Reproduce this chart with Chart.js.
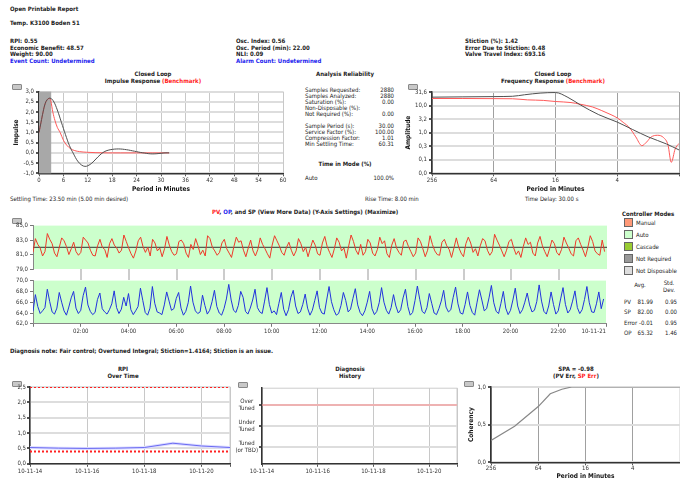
<!DOCTYPE html>
<html>
<head>
<meta charset="utf-8">
<script src="https://cdn.jsdelivr.net/npm/chart.js@4.4.1/dist/chart.umd.min.js"></script>
<style>
body { margin: 0; background: #fff; }
#page { position: relative; width: 680px; height: 480px; overflow: hidden; font-family: "DejaVu Sans Condensed", "DejaVu Sans", sans-serif; font-size: 6px; color: #222; }
.t { position: absolute; white-space: nowrap; line-height: 6.5px; }
.b { font-weight: bold; }
.c { transform: translateX(-50%); text-align: center; }
.blue { color: #2222ee; }
.red { color: #ff2222; }
canvas { position: absolute; }
.btn { position: absolute; width: 8px; height: 4px; background: #c8c8c8; border: 1px solid #888; border-radius: 1px; }
.sq { position: absolute; left: 624px; width: 7px; height: 7px; border: 1px solid #666; }
.row { display: flex; justify-content: space-between; width: 89px; height: 6px; line-height: 6px; }
</style>
</head>
<body>
<div id="page">
  <div class="t b" style="left:10px;top:6px">Open Printable Report</div>
  <div class="t b" style="left:10px;top:20px">Temp. K3100 Boden 51</div>
  <div class="t b" style="left:10px;top:38px">RPI: 0.55<br>Economic Benefit: 48.57<br>Weight: 90.00<br><span class="blue">Event Count: Undetermined</span></div>
  <div class="t b" style="left:236px;top:38px">Osc. Index: 0.56<br>Osc. Period (min): 22.00<br>NLI: 0.09<br><span class="blue">Alarm Count: Undetermined</span></div>
  <div class="t b" style="left:465px;top:38px">Stiction (%): 1.42<br>Error Due to Stiction: 0.48<br>Valve Travel Index: 693.16</div>

  <div class="t b c" style="left:153px;top:71px">Closed Loop</div>
  <div class="t b c" style="left:153px;top:78px">Impulse Response <span class="red">(Benchmark)</span></div>
  <div class="t b c" style="left:553px;top:71px">Closed Loop</div>
  <div class="t b c" style="left:553px;top:78px">Frequency Response <span class="red">(Benchmark)</span></div>

  <div class="t b c" style="left:345px;top:71px">Analysis Reliability</div>
  <div class="t" style="left:305px;top:87px">
    <div class="row"><span>Samples Requested:</span><span>2880</span></div>
    <div class="row"><span>Samples Analyzed:</span><span>2880</span></div>
    <div class="row"><span>Saturation (%):</span><span>0.00</span></div>
    <div class="row"><span>Non-Disposable (%):</span><span></span></div>
    <div class="row"><span>Not Required (%):</span><span>0.00</span></div>
    <div class="row"></div>
    <div class="row"><span>Sample Period (s):</span><span>30.00</span></div>
    <div class="row"><span>Service Factor (%):</span><span>100.00</span></div>
    <div class="row"><span>Compression Factor:</span><span>1.01</span></div>
    <div class="row"><span>Min Settling Time:</span><span>60.31</span></div>
  </div>
  <div class="t b c" style="left:345px;top:161px">Time in Mode (%)</div>
  <div class="t" style="left:305px;top:175px"><div class="row"><span>Auto</span><span>100.0%</span></div></div>

  <div class="t" style="left:10px;top:196px">Settling Time: 23.50 min (5.00 min desired)</div>
  <div class="t" style="left:365px;top:196px">Rise Time: 8.00 min</div>
  <div class="t" style="left:525px;top:196px">Time Delay: 30.00 s</div>

  <div class="t b" style="left:212px;top:209px"><span class="red">PV</span>, <span class="blue">OP</span>, and SP (View More Data) (Y-Axis Settings) (Maximize)</div>

  <div class="t b" style="left:622px;top:211px">Controller Modes</div>
  <div class="sq" style="top:218px;background:#ff9977"></div><div class="t" style="left:636px;top:220px">Manual</div>
  <div class="sq" style="top:230px;background:#ccffcc"></div><div class="t" style="left:636px;top:232px">Auto</div>
  <div class="sq" style="top:242px;background:#99cc33"></div><div class="t" style="left:636px;top:244px">Cascade</div>
  <div class="sq" style="top:254px;background:#999999"></div><div class="t" style="left:636px;top:256px">Not Required</div>
  <div class="sq" style="top:266px;background:#dddddd"></div><div class="t" style="left:636px;top:268px">Not Disposable</div>

  <div class="t c" style="left:640px;top:282px">Avg.</div>
  <div class="t c" style="left:669px;top:280px">Std.<br>Dev.</div>
  <div class="t" style="left:624px;top:299px">PV</div><div class="t" style="right:27px;top:299px">81.99</div><div class="t" style="right:3px;top:299px">0.95</div>
  <div class="t" style="left:624px;top:309px">SP</div><div class="t" style="right:27px;top:309px">82.00</div><div class="t" style="right:3px;top:309px">0.00</div>
  <div class="t" style="left:624px;top:320px">Error</div><div class="t" style="right:27px;top:320px">-0.01</div><div class="t" style="right:3px;top:320px">0.95</div>
  <div class="t" style="left:624px;top:330px">OP</div><div class="t" style="right:27px;top:330px">65.32</div><div class="t" style="right:3px;top:330px">1.46</div>

  <div class="t b" style="left:10px;top:348px">Diagnosis note: Fair control; Overtuned Integral; Stiction=1.4164; Stiction is an issue.</div>

  <div class="t b c" style="left:123px;top:366px">RPI</div>
  <div class="t b c" style="left:123px;top:373px">Over Time</div>
  <div class="t b c" style="left:350px;top:366px">Diagnosis</div>
  <div class="t b c" style="left:350px;top:373px">History</div>
  <div class="t b c" style="left:576px;top:366px">SPA = -0.98</div>
  <div class="t b c" style="left:576px;top:373px">(PV Err, <span class="red">SP Err</span>)</div>

  <div class="btn" style="left:12px;top:84px"></div>
  <div class="btn" style="left:408px;top:84px"></div>
  <div class="btn" style="left:12px;top:218px"></div>
  <div class="btn" style="left:12px;top:381px"></div>
  <div class="btn" style="left:238px;top:382px"></div>
  <div class="btn" style="left:464px;top:381px"></div>

  <canvas id="impulse" width="290" height="107" style="left:0;top:86px"></canvas>
  <canvas id="freq" width="280" height="107" style="left:400px;top:86px"></canvas>
  <canvas id="pv" width="607" height="61" style="left:0;top:220px"></canvas>
  <canvas id="op" width="607" height="61" style="left:0;top:275px"></canvas>
  <canvas id="rpi" width="240" height="96" style="left:0;top:380px"></canvas>
  <canvas id="diag" width="230" height="96" style="left:235px;top:380px"></canvas>
  <canvas id="spa" width="225" height="100" style="left:455px;top:380px"></canvas>
</div>

<script>
// impulse response (minutes / impulse)
const IMPULSE_MINUTES = [0, 0.5, 1, 1.5, 2, 2.7, 3.5, 4.5, 5.5, 6.5, 7.5, 8.5, 9.5, 10.5, 11.3, 12, 13, 14, 15, 16, 17, 18, 19, 20, 21, 22, 23, 24, 25, 26, 27, 28, 29, 30, 31, 32];
const IMPULSE_VALUES = [1.0, 1.5, 2.0, 2.4, 2.6, 2.68, 2.55, 2.1, 1.5, 0.9, 0.35, -0.05, -0.4, -0.6, -0.66, -0.63, -0.5, -0.3, -0.1, 0.05, 0.13, 0.17, 0.19, 0.19, 0.17, 0.14, 0.1, 0.06, 0.02, -0.01, -0.04, -0.05, -0.04, -0.02, 0.0, 0.0];
const BENCH_MINUTES = [0, 0.5, 1, 1.5, 2, 2.7, 2.9, 3.4, 3.9, 4.5, 5.2, 6.0, 6.8, 7.8, 8.8, 10, 11.7, 14, 17, 20, 24, 28, 32];
const BENCH_VALUES = [1.0, 1.5, 2.0, 2.4, 2.6, 2.66, 2.55, 2.0, 1.6, 1.25, 1.0, 0.62, 0.38, 0.2, 0.11, 0.06, 0.03, 0.01, 0, 0, 0, 0, 0];
const IMPULSE_SHADE_END = 3;

// frequency response (period in minutes / amplitude)
const FREQ_PERIODS = [256, 128, 64, 42, 32, 22.6, 16, 12.1, 9.2, 6.06, 4, 2.83, 2, 1.32, 1];
const FREQ_AMPLITUDE = [20.4, 20.9, 21.4, 22, 25, 28.8, 30.2, 20, 10.7, 4.6, 2.45, 1.3, 0.7, 0.38, 0.23];
const FREQ_BENCH_PERIODS = [256, 128, 64, 42, 30, 21, 16, 11.3, 9.2, 7, 5.66, 4.6, 4, 3.5, 3.03, 2.64, 2.3, 2.07, 1.87, 1.62, 1.41, 1.28, 1.19, 1.09, 1];
const FREQ_BENCH_AMPLITUDE = [18.2, 18.2, 18.0, 17.8, 16.2, 15.5, 14.1, 12.9, 11.2, 8.9, 6.5, 4.6, 3.5, 2.4, 1.5, 0.7, 0.33, 0.45, 0.69, 0.8, 0.65, 0.35, 0.08, 0.25, 0.4];
const FREQ_Y_TICKS = [31.62, 10, 3.162, 1, 0.3162, 0.1, 0.03162];
const PERIOD_TICKS = [256, 64, 16, 4, 1];

// trend, one sample every 6 minutes over 24 h
const SAMPLE_MINUTES = 6;
const PV = [
  81.3, 83.2, 82.4, 81.9, 80.8, 81.4, 83.9, 83.1, 82.5, 81.2, 80.7, 82.0,
  83.3, 82.9, 82.1, 81.0, 81.8, 82.7, 81.4, 80.9, 81.3, 83.4, 83.0, 82.6,
  81.6, 80.9, 80.8, 82.2, 83.1, 82.0, 81.7, 80.6, 82.5, 83.2, 82.3, 81.9,
  81.2, 81.6, 83.7, 82.8, 81.9, 81.1, 80.5, 81.5, 82.9, 83.4, 82.1, 81.3,
  82.0, 80.8, 83.1, 82.6, 81.5, 81.9, 80.7, 81.8, 83.5, 82.3, 81.4, 80.9,
  81.1, 82.8, 83.0, 82.5, 81.2, 80.6, 82.4, 81.7, 83.2, 82.2, 81.0, 81.6,
  80.8, 83.6, 83.2, 82.0, 81.5, 80.9, 81.3, 82.6, 83.1, 81.8, 81.2, 80.6,
  82.1, 83.4, 82.7, 82.9, 81.6, 80.7, 81.9, 83.0, 81.5, 80.8, 81.7, 83.3,
  82.4, 81.8, 81.1, 80.5, 82.3, 83.6, 82.9, 82.2, 81.3, 80.9, 82.0, 82.7,
  81.6, 80.8, 81.5, 83.2, 82.5, 81.4, 82.0, 80.7, 81.9, 83.0, 82.3, 81.1,
  80.9, 82.6, 83.5, 82.1, 81.3, 80.6, 81.8, 83.3, 82.7, 81.5, 81.9, 80.5,
  82.2, 83.7, 82.8, 81.6, 81.0, 82.4, 80.9, 81.4, 83.1, 82.6, 81.2, 80.8,
  81.7, 83.4, 82.5, 82.9, 81.1, 80.6, 82.3, 83.2, 81.9, 81.3, 80.9, 82.8,
  83.0, 82.1, 81.4, 80.7, 81.2, 83.3, 82.8, 81.8, 80.7, 81.6, 83.6, 82.4,
  81.5, 81.0, 80.9, 82.7, 83.1, 82.2, 81.7, 80.6, 81.9, 83.3, 82.0, 81.2,
  80.7, 82.5, 83.4, 82.6, 81.3, 81.8, 80.8, 82.2, 83.2, 82.9, 81.6, 80.9,
  81.4, 83.8, 83.0, 82.3, 81.5, 80.7, 81.6, 82.8, 83.1, 81.9, 81.0, 81.5,
  80.6, 82.1, 83.3, 82.4, 82.7, 81.2, 80.8, 82.6, 83.5, 82.2, 81.4, 80.7,
  81.8, 83.0, 82.5, 81.3, 80.9, 81.7, 83.4, 82.6, 81.9, 81.1, 80.8, 82.9,
  83.3, 82.4, 81.6, 80.7, 82.0, 83.6, 82.8, 81.5, 81.1, 80.9, 83.0, 81.4
];
const OP = [
  64.3, 67.4, 65.2, 63.9, 64.4, 65.0, 68.4, 66.1, 64.2, 63.8, 64.9, 67.8,
  66.0, 64.4, 63.6, 65.1, 66.8, 68.0, 64.9, 63.9, 64.5, 67.2, 68.8, 65.5,
  64.3, 63.7, 64.1, 66.5, 67.7, 64.8, 64.2, 63.8, 64.6, 65.7, 68.1, 65.0,
  63.9, 64.7, 66.9, 65.3, 67.6, 64.6, 63.7, 64.4, 65.2, 68.6, 66.3, 64.1,
  63.6, 64.9, 68.9, 65.8, 64.2, 64.0, 63.7, 65.5, 67.9, 66.2, 64.5, 64.8,
  66.7, 67.8, 64.9, 63.6, 64.3, 65.9, 69.0, 66.0, 64.4, 63.9, 64.2, 67.3,
  65.4, 63.8, 64.5, 66.1, 68.2, 65.2, 64.0, 63.6, 64.8, 66.6, 69.3, 66.4,
  64.5, 64.1, 65.4, 68.0, 66.9, 64.3, 63.8, 64.9, 66.4, 68.4, 65.0, 64.2,
  63.9, 66.2, 68.7, 65.6, 64.0, 64.4, 63.7, 65.8, 67.8, 64.7, 63.5, 64.6,
  66.9, 68.2, 65.3, 63.9, 64.2, 65.6, 67.5, 64.9, 63.6, 64.5, 66.3, 68.1,
  65.0, 64.0, 63.8, 66.4, 68.9, 66.1, 64.6, 63.6, 63.9, 65.4, 67.8, 66.3,
  64.2, 64.7, 66.7, 68.5, 65.5, 64.1, 63.5, 64.4, 66.0, 68.0, 64.8, 63.7,
  64.3, 65.9, 68.7, 66.0, 64.5, 63.8, 65.0, 67.4, 65.3, 64.0, 64.6, 66.8,
  68.4, 65.2, 63.6, 64.1, 66.3, 69.0, 66.5, 64.3, 63.9, 65.0, 67.6, 65.8,
  64.0, 63.7, 64.8, 66.2, 68.2, 65.1, 64.2, 64.6, 66.9, 68.8, 65.7, 64.0,
  63.8, 65.6, 67.9, 65.4, 64.1, 63.6, 66.0, 68.3, 66.4, 64.4, 64.8, 66.8,
  69.1, 65.9, 64.3, 63.9, 65.8, 68.0, 64.9, 63.7, 64.5, 66.4, 68.6, 65.3,
  63.9, 64.6, 66.0, 67.7, 65.5, 64.2, 64.5, 66.1, 69.2, 66.2, 64.3, 63.8,
  65.3, 67.9, 65.6, 63.8, 64.4, 66.6, 68.7, 65.6, 64.0, 64.6, 66.2, 68.1,
  65.0, 63.9, 64.6, 66.5, 68.9, 65.9, 64.2, 64.1, 65.7, 67.9, 64.8, 66.6
];
const SP_VALUE = 82.0;
const TREND_HOURS = 24;
const TREND_END_LABEL = '10-11-21';

// history charts, one entry per day
const DATES = ['10-11-14', '10-11-15', '10-11-16', '10-11-17', '10-11-18', '10-11-19', '10-11-20', '10-11-21'];
const RPI_VALUES = [0.53, 0.51, 0.50, 0.51, 0.53, 0.67, 0.58, 0.53];
const RPI_LIMITS = [2.5, 0.4];
const DIAG_LEVELS = [['Tuned', '(or TBD)'], ['Under', 'Tuned'], ['Over', 'Tuned']];
const DIAG_HISTORY = [2, 2, 2, 2, 2, 2, 2, 2];

// spa coherency
const SPA_PERIODS = [256, 128, 64, 45, 32, 24, 16, 8, 4, 2, 1];
const SPA_COHERENCY = [0.29, 0.48, 0.74, 0.91, 0.97, 1.0, 1.0, 1.0, 1.0, 1.0, 1.0];

Chart.defaults.font.family = '"DejaVu Sans Condensed", "DejaVu Sans", sans-serif';
Chart.defaults.font.size = 6;
Chart.defaults.color = '#333';
Chart.defaults.animation = false;
Chart.defaults.responsive = false;
Chart.defaults.plugins.legend.display = false;
Chart.defaults.plugins.tooltip.enabled = false;
Chart.defaults.elements.point.radius = 0;
Chart.defaults.elements.line.borderWidth = 1;

const comma = v => Number(v).toFixed(1).replace('.', ',');
const xy = (xs, ys) => xs.map((x, i) => ({ x: x, y: ys[i] }));
const axisBorder = { color: '#333', width: 1.5 };
const hGrid = { color: '#dddddd', lineWidth: 2, tickLength: 3, tickColor: '#555' };
const vGrid = { color: '#c8c8c8', lineWidth: 1, tickLength: 3, tickColor: '#555' };
const axisTitle = text => ({ display: true, text: text, color: '#111', font: { weight: 'bold', size: 6.5, lineHeight: 1 }, padding: { top: 1, bottom: 0 } });
const fixWidth = w => scale => { scale.width = w; };

const framePlugin = {
    id: 'frame',
    beforeDraw(chart) {
        const a = chart.chartArea;
        const ctx = chart.ctx;
        ctx.save();
        ctx.strokeStyle = '#cccccc';
        ctx.lineWidth = 1;
        ctx.strokeRect(a.left, a.top, a.right - a.left, a.bottom - a.top);
        ctx.restore();
    }
};

const shadePlugin = {
    id: 'shade',
    beforeDatasetsDraw(chart) {
        const xs = chart.scales.x;
        const a = chart.chartArea;
        const x0 = xs.getPixelForValue(0);
        const x1 = xs.getPixelForValue(IMPULSE_SHADE_END);
        chart.ctx.save();
        chart.ctx.fillStyle = '#a8a8a8';
        chart.ctx.fillRect(x0, a.top, x1 - x0, a.bottom - a.top);
        chart.ctx.restore();
    }
};

const greenPlugin = {
    id: 'green',
    beforeDraw(chart) {
        const a = chart.chartArea;
        chart.ctx.save();
        chart.ctx.fillStyle = '#ccffcc';
        chart.ctx.fillRect(a.left, a.top, a.right - a.left, a.bottom - a.top);
        chart.ctx.restore();
    }
};

const gapPlugin = {
    id: 'gap',
    afterDraw(chart) {
        const xs = chart.scales.x;
        const a = chart.chartArea;
        const ctx = chart.ctx;
        ctx.save();
        ctx.strokeStyle = '#cccccc';
        ctx.lineWidth = 2;
        for (let h = 2; h < TREND_HOURS; h += 2) {
            const px = Math.round(xs.getPixelForValue(h));
            ctx.beginPath();
            ctx.moveTo(px, a.bottom);
            ctx.lineTo(px, a.bottom + 11);
            ctx.stroke();
        }
        ctx.restore();
    }
};

function setTicks(values) {
    return scale => { scale.ticks = values.map(v => ({ value: v })); };
}

// impulse response
new Chart(document.getElementById('impulse'), {
    type: 'line',
    data: {
        datasets: [
            { data: xy(IMPULSE_MINUTES, IMPULSE_VALUES), borderColor: '#505050', tension: 0.4 },
            { data: xy(BENCH_MINUTES, BENCH_VALUES), borderColor: '#ff5a5a', cubicInterpolationMode: 'monotone' }
        ]
    },
    options: {
        layout: { padding: { left: 12, top: 5, right: 7, bottom: 0 } },
        scales: {
            x: { type: 'linear', min: 0, max: 60, ticks: { stepSize: 6, padding: 1 }, grid: vGrid, border: axisBorder, title: axisTitle('Period in Minutes') },
            y: { min: -1, max: 3, ticks: { stepSize: 0.5, padding: 2, callback: comma }, grid: hGrid, border: axisBorder, title: axisTitle('Impulse'), afterFit: fixWidth(27) }
        }
    },
    plugins: [shadePlugin]
});

// frequency response
new Chart(document.getElementById('freq'), {
    type: 'line',
    data: {
        datasets: [
            { data: xy(FREQ_PERIODS, FREQ_AMPLITUDE), borderColor: '#505050', cubicInterpolationMode: 'monotone' },
            { data: xy(FREQ_BENCH_PERIODS, FREQ_BENCH_AMPLITUDE), borderColor: '#ff5a5a', cubicInterpolationMode: 'monotone' }
        ]
    },
    options: {
        layout: { padding: { left: 4, top: 6, right: 0, bottom: 0 } },
        scales: {
            x: {
                type: 'logarithmic', reverse: true, min: 1, max: 256,
                afterBuildTicks: setTicks(PERIOD_TICKS),
                ticks: { padding: 1, callback: v => (v === 1 ? '' : String(v)) },
                grid: { color: '#a0a0a0', lineWidth: 1, tickLength: 3, tickColor: '#555' },
                border: axisBorder, title: axisTitle('Period in Minutes')
            },
            y: {
                type: 'logarithmic', min: FREQ_Y_TICKS[FREQ_Y_TICKS.length - 1], max: FREQ_Y_TICKS[0],
                afterBuildTicks: setTicks(FREQ_Y_TICKS),
                ticks: { padding: 2, callback: comma },
                grid: hGrid, border: axisBorder, title: axisTitle('Amplitude'), afterFit: fixWidth(28)
            }
        }
    }
});

// PV / SP trend
const trendX = arr => arr.map((v, i) => ({ x: i * SAMPLE_MINUTES / 60, y: v }));
new Chart(document.getElementById('pv'), {
    type: 'line',
    data: {
        datasets: [
            { data: trendX(PV), borderColor: '#ee3a2a' },
            { data: [{ x: 0, y: SP_VALUE }, { x: TREND_HOURS, y: SP_VALUE }], borderColor: '#333' }
        ]
    },
    options: {
        layout: { padding: { left: 0, top: 5, right: 0, bottom: 12 } },
        scales: {
            x: { type: 'linear', min: 0, max: TREND_HOURS, ticks: { display: false }, grid: { display: false, drawTicks: false }, border: { display: false } },
            y: { min: 79, max: 85, ticks: { stepSize: 2, padding: 2, callback: comma }, grid: { drawOnChartArea: false, tickLength: 3, tickColor: '#777' }, border: { color: '#888' }, afterFit: fixWidth(33) }
        }
    },
    plugins: [greenPlugin, gapPlugin]
});

// OP trend
new Chart(document.getElementById('op'), {
    type: 'line',
    data: { datasets: [{ data: trendX(OP), borderColor: '#2233dd' }] },
    options: {
        layout: { padding: { left: 0, top: 5, right: 0, bottom: 0 } },
        scales: {
            x: {
                type: 'linear', min: 0, max: TREND_HOURS,
                ticks: { stepSize: 2, padding: 1, align: 'inner', maxRotation: 0, autoSkip: false,
                    callback: v => (v === 0 ? '' : v === TREND_HOURS ? TREND_END_LABEL : String(v).padStart(2, '0') + ':00') },
                grid: { drawOnChartArea: false, tickLength: 3, tickColor: '#777' }, border: { color: '#888' }
            },
            y: { min: 62, max: 70, ticks: { stepSize: 2, padding: 2, callback: comma }, grid: { drawOnChartArea: false, tickLength: 3, tickColor: '#777' }, border: { color: '#888' }, afterFit: fixWidth(33) }
        }
    },
    plugins: [greenPlugin]
});

// RPI over time (first dataset is drawn on top)
const dayIdx = DATES.map((d, i) => i);
new Chart(document.getElementById('rpi'), {
    type: 'line',
    data: {
        datasets: [
            ...RPI_LIMITS.map(v => ({ data: [{ x: 0, y: v }, { x: DATES.length - 1, y: v }], borderColor: '#ff2222', borderWidth: 2, borderDash: [2, 2] })),
            { data: xy(dayIdx, RPI_VALUES), borderColor: '#6a6af2' },
            { data: xy(dayIdx, RPI_VALUES), borderColor: '#dcdcff', borderWidth: 3 }
        ]
    },
    options: {
        layout: { padding: { left: 0, top: 7, right: 10, bottom: 0 } },
        scales: {
            x: { type: 'linear', min: 0, max: DATES.length - 1, ticks: { stepSize: 2, padding: 1, maxRotation: 0, callback: v => (v % 2 === 0 ? DATES[v] : '') }, grid: vGrid, border: axisBorder },
            y: { min: 0, max: 2.5, ticks: { stepSize: 0.5, padding: 1, callback: comma }, grid: hGrid, border: axisBorder, afterFit: fixWidth(30) }
        }
    },
    plugins: [framePlugin]
});

// diagnosis history
new Chart(document.getElementById('diag'), {
    type: 'line',
    data: { datasets: [{ data: xy(dayIdx, DIAG_HISTORY), borderColor: '#ff8888', borderWidth: 1.2 }] },
    options: {
        layout: { padding: { left: 0, top: 7, right: 8, bottom: 0 } },
        scales: {
            x: { type: 'linear', min: 0, max: DATES.length - 1, ticks: { stepSize: 2, padding: 1, maxRotation: 0, callback: v => (v % 2 === 0 ? DATES[v] : '') }, grid: vGrid, border: axisBorder },
            y: { min: -0.8, max: 2.8, afterBuildTicks: setTicks([0, 1, 2]), ticks: { padding: 1, crossAlign: 'center', callback: v => DIAG_LEVELS[v] }, grid: hGrid, border: axisBorder, afterFit: fixWidth(27) }
        }
    },
    plugins: [framePlugin]
});

// SPA coherency
new Chart(document.getElementById('spa'), {
    type: 'line',
    data: { datasets: [{ data: xy(SPA_PERIODS, SPA_COHERENCY), borderColor: '#888888', borderWidth: 1.2 }] },
    options: {
        layout: { padding: { left: 12, top: 7, right: 0, bottom: 0 } },
        scales: {
            x: {
                type: 'logarithmic', reverse: true, min: 1, max: 256,
                afterBuildTicks: setTicks(PERIOD_TICKS),
                ticks: { padding: 0, callback: v => (v === 1 ? '' : String(v)) },
                grid: { color: '#a0a0a0', lineWidth: 1, tickLength: 3, tickColor: '#555' },
                border: axisBorder, title: axisTitle('Period in Minutes')
            },
            y: { min: 0, max: 1, ticks: { stepSize: 0.5, padding: 2, callback: comma }, grid: hGrid, border: axisBorder, title: axisTitle('Coherency'), afterFit: fixWidth(24) }
        }
    },
    plugins: [framePlugin]
});
</script>
</body>
</html>
